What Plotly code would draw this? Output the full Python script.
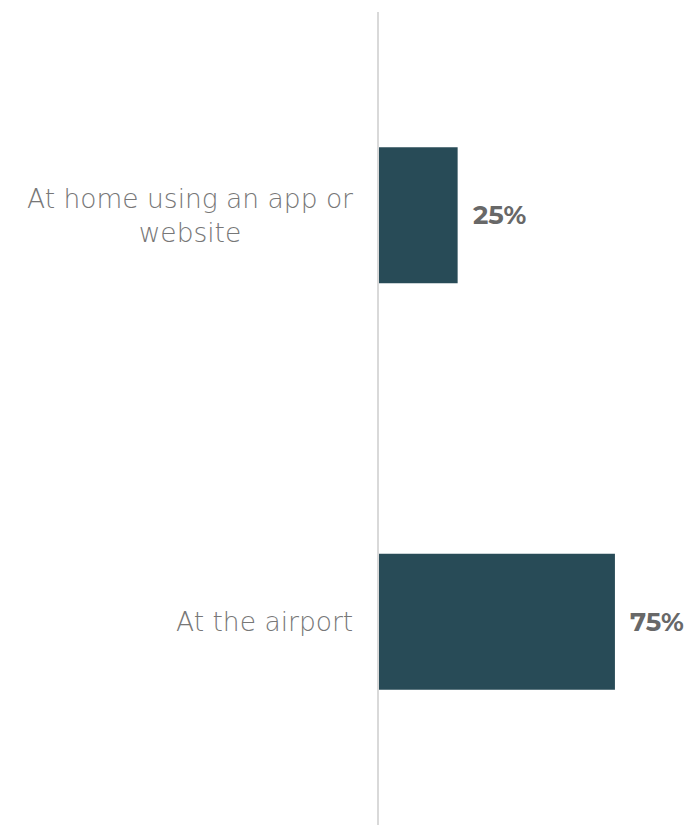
import plotly.graph_objects as go

# Where passengers checked in
categories = ["At home using an app or<br>website", "At the airport"]
shares = [25, 75]
value_labels = ["25%", "75%"]

BAR_COLOR = "#284b57"
LABEL_COLOR = "#777777"
VALUE_COLOR = "#686868"
LABEL_FONT = "DejaVu Sans"

fig = go.Figure(
    go.Bar(
        y=categories,
        x=shares,
        orientation="h",
        marker=dict(color=BAR_COLOR, line=dict(width=0)),
        hoverinfo="skip",
    )
)

# Value labels just past the end of each bar
for cat, val, lab in zip(categories, shares, value_labels):
    fig.add_annotation(
        x=val, y=cat, xref="x", yref="y",
        text=f"<b>{lab}</b>", showarrow=False,
        xanchor="left", yanchor="middle", xshift=13,
        font=dict(family="Montserrat, DejaVu Sans, sans-serif", size=26, color=VALUE_COLOR),
    )

# Centered category labels to the left of the axis line
for cat in categories:
    fig.add_annotation(
        x=0, y=cat, xref="paper", yref="y",
        text=cat, showarrow=False,
        xanchor="right", yanchor="middle", xshift=-24, align="center",
        font=dict(family=LABEL_FONT, size=26.5, color=LABEL_COLOR, weight=200),
    )

fig.update_layout(
    width=692, height=825,
    margin=dict(l=379, r=0, t=12, b=0),
    paper_bgcolor="white", plot_bgcolor="white",
    bargap=0.665,
    showlegend=False,
    xaxis=dict(range=[0, 99.5], visible=False, fixedrange=True),
    yaxis=dict(
        autorange="reversed", showticklabels=False, ticks="",
        showgrid=False, zeroline=False,
        showline=True, linecolor="#d9d9d9", linewidth=2,
        fixedrange=True,
    ),
)

fig.write_html("out.html")
